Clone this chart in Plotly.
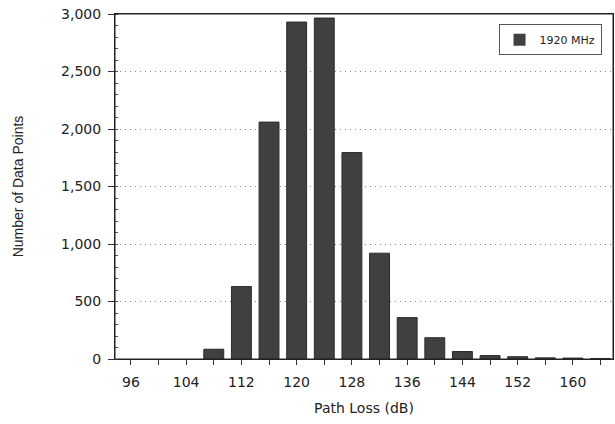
import plotly.graph_objects as go

path_loss = [96, 100, 104, 108, 112, 116, 120, 124, 128, 132, 136, 140, 144, 148, 152, 156, 160, 164]
counts = [0, 0, 0, 85, 630, 2060, 2930, 2965, 1795, 920, 360, 185, 65, 30, 20, 10, 8, 4]
series_name = "1920 MHz"
x_tick_vals = [96, 104, 112, 120, 128, 136, 144, 152, 160]
y_tick_vals = [0, 500, 1000, 1500, 2000, 2500, 3000]

fig = go.Figure()
fig.add_trace(go.Bar(
    x=path_loss, y=counts, name=series_name,
    marker=dict(color="#404040", line=dict(color="#2a2a2a", width=[0 if c == 0 else 1 for c in counts])),
    showlegend=True,
))

axis_font = dict(family="DejaVu Sans", size=14, color="#222222")

fig.update_layout(
    width=615, height=424,
    margin=dict(l=115, r=2, t=14, b=65),
    paper_bgcolor="white", plot_bgcolor="white",
    bargap=0.28,
    showlegend=True,
    legend=dict(
        x=0.977, xanchor="right", y=0.97, yanchor="top",
        bordercolor="#555555", borderwidth=1, bgcolor="white",
        font=dict(family="DejaVu Sans", size=11, color="#222222"),
        itemwidth=30,
    ),
    shapes=[dict(type="rect", xref="paper", yref="paper", x0=0, y0=0, x1=1, y1=1,
                 line=dict(color="#222222", width=1), layer="above")],
    xaxis=dict(
        range=[93.7, 165.8],
        automargin=False,
        tickmode="array", tickvals=x_tick_vals,
        ticks="outside", ticklen=5, tickcolor="#333333",
        ticklabelstandoff=5,
        ticklabeloverflow="allow",
        showline=True, linecolor="#222222", linewidth=1, mirror=True,
        showgrid=False, zeroline=False,
        tickfont=axis_font,
        minor=dict(dtick=4, tick0=96, ticks="outside", ticklen=5, tickcolor="#333333", showgrid=False),
        title=dict(text="Path Loss (dB)", font=dict(family="DejaVu Sans", size=14, color="#222222"), standoff=14),
    ),
    yaxis=dict(
        range=[0, 3000],
        automargin=False,
        tickmode="array", tickvals=y_tick_vals,
        tickformat=",d",
        ticks="outside", ticklen=6, tickcolor="#333333",
        ticklabelstandoff=4,
        ticklabeloverflow="allow",
        showline=True, linecolor="#222222", linewidth=1, mirror=True,
        showgrid=True, gridcolor="#888888", griddash="1px,4px", gridwidth=1,
        zeroline=False,
        tickfont=axis_font,
        minor=dict(dtick=100, ticks="inside", ticklen=3, tickcolor="#555555", showgrid=False),
        title=dict(text="Number of Data Points", font=dict(family="Liberation Sans", size=14, color="#222222"), standoff=34),
    ),
)

fig.write_html("out.html", config={"displayModeBar": False},
               post_script="document.body.style.margin='0';")
